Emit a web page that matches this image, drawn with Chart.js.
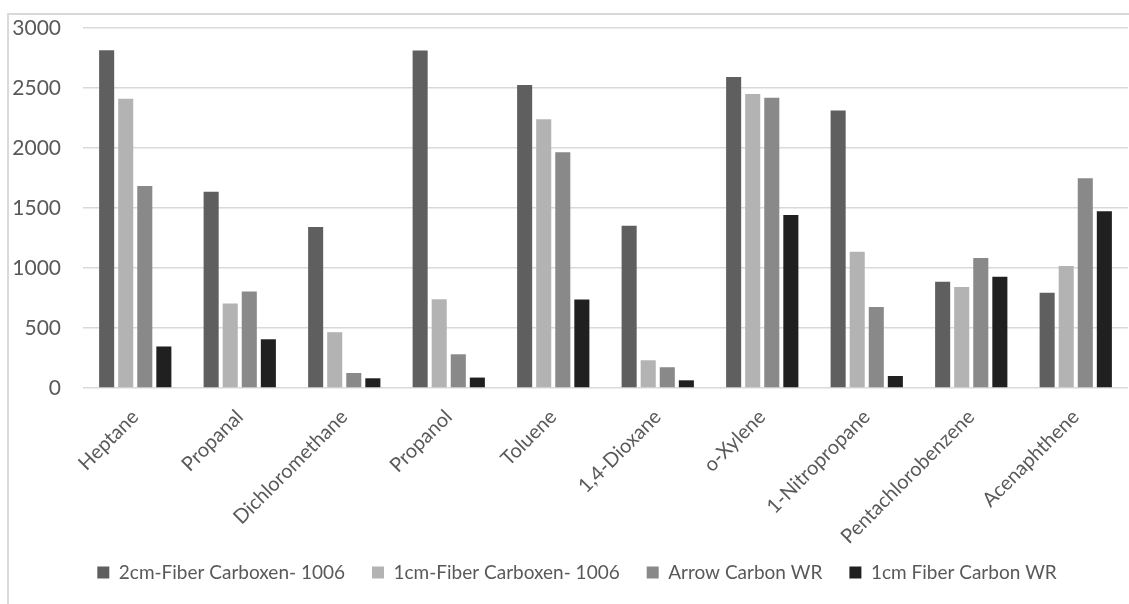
<!DOCTYPE html>
<html>
<head>
<meta charset="utf-8">
<script src="https://cdn.jsdelivr.net/npm/chart.js@4/dist/chart.umd.min.js"></script>
<style>
  html, body { margin: 0; padding: 0; background: #ffffff; }
  #wrap { position: relative; width: 1129px; height: 604px; overflow: hidden; }
  #frame { position: absolute; left: 7px; top: 13px; width: 1200px; height: 700px;
           border-left: 2px solid #d9d9d9; border-top: 2px solid #d9d9d9; box-sizing: border-box; }
  canvas { position: absolute; left: 0; top: 0; }
</style>
</head>
<body>
<div id="wrap">
  <div id="frame"></div>
  <canvas id="chart" width="1129" height="604"></canvas>
</div>
<script>
const categories = ['Heptane', 'Propanal', 'Dichloromethane', 'Propanol', 'Toluene',
  '1,4-Dioxane', 'o-Xylene', '1-Nitropropane', 'Pentachlorobenzene', 'Acenaphthene'];

const fiber2cmCarboxen = [2815, 1636, 1341, 2813, 2524, 1352, 2591, 2312, 885, 793];
const fiber1cmCarboxen = [2410, 704, 465, 740, 2240, 231, 2449, 1135, 841, 1016];
const arrowCarbonWR    = [1684, 805, 125, 281, 1965, 173, 2418, 676, 1083, 1748];
const fiber1cmCarbonWR = [346, 406, 81, 87, 738, 64, 1442, 100, 927, 1472];

const yTicks = [0, 500, 1000, 1500, 2000, 2500, 3000];

const seriesNames = ['2cm-Fiber Carboxen- 1006', '1cm-Fiber Carboxen- 1006',
  'Arrow Carbon WR', '1cm Fiber Carbon WR'];
const seriesColors = ['#5f5f5f', '#b3b3b3', '#898989', '#202020'];

const textColor = '#595959';
const fontFamily = 'Lato, "Open Sans", sans-serif';

const seriesData = [fiber2cmCarboxen, fiber1cmCarboxen, arrowCarbonWR, fiber1cmCarbonWR];

// The legend takes a thin slot in the layout so the rotated category labels
// keep their room, then its drawing box is widened upward and nudged right.
const legendPlacePlugin = {
  id: 'legendPlace',
  afterInit(chart) {
    const legend = chart.legend;
    const origFit = legend.fit;
    legend.fit = function () {
      origFit.call(this);
      this.height = 40;
    };
  },
  afterLayout(chart) {
    const legend = chart.legend;
    legend.top = legend.bottom - 68;
    legend.left += 7;
    legend.right += 7;
  }
};

new Chart(document.getElementById('chart'), {
  type: 'bar',
  data: {
    labels: categories,
    datasets: seriesData.map((values, i) => ({
      label: seriesNames[i],
      data: values,
      backgroundColor: seriesColors[i],
      borderWidth: 0,
      categoryPercentage: 0.73,
      barPercentage: 0.79
    }))
  },
  plugins: [legendPlacePlugin],
  options: {
    responsive: false,
    animation: false,
    layout: { padding: { left: 12, right: 1, top: 28, bottom: 0 } },
    plugins: {
      tooltip: { enabled: false },
      legend: {
        position: 'bottom',
        labels: {
          boxWidth: 12,
          boxHeight: 12,
          padding: 27,
          color: textColor,
          font: { family: fontFamily, size: 19 }
        }
      }
    },
    scales: {
      x: {
        grid: { display: false, drawTicks: false },
        border: { display: false },
        ticks: {
          autoSkip: false,
          maxRotation: 45,
          minRotation: 45,
          padding: 17,
          color: textColor,
          font: { family: fontFamily, size: 20 }
        },
        afterFit(scale) { scale.height = 176; }
      },
      y: {
        min: 0,
        max: 3000,
        afterBuildTicks(scale) { scale.ticks = yTicks.map(v => ({ value: v })); },
        grid: { color: '#d9d9d9', lineWidth: 1.5, drawTicks: false },
        border: { display: false },
        ticks: {
          padding: 22,
          color: textColor,
          font: { family: fontFamily, size: 21 },
          callback: (v) => String(v)
        },
        afterFit(scale) {
          scale.width = 71;
          scale.paddingTop = 0;
          scale.paddingBottom = 0;
        }
      }
    }
  }
});
</script>
</body>
</html>
